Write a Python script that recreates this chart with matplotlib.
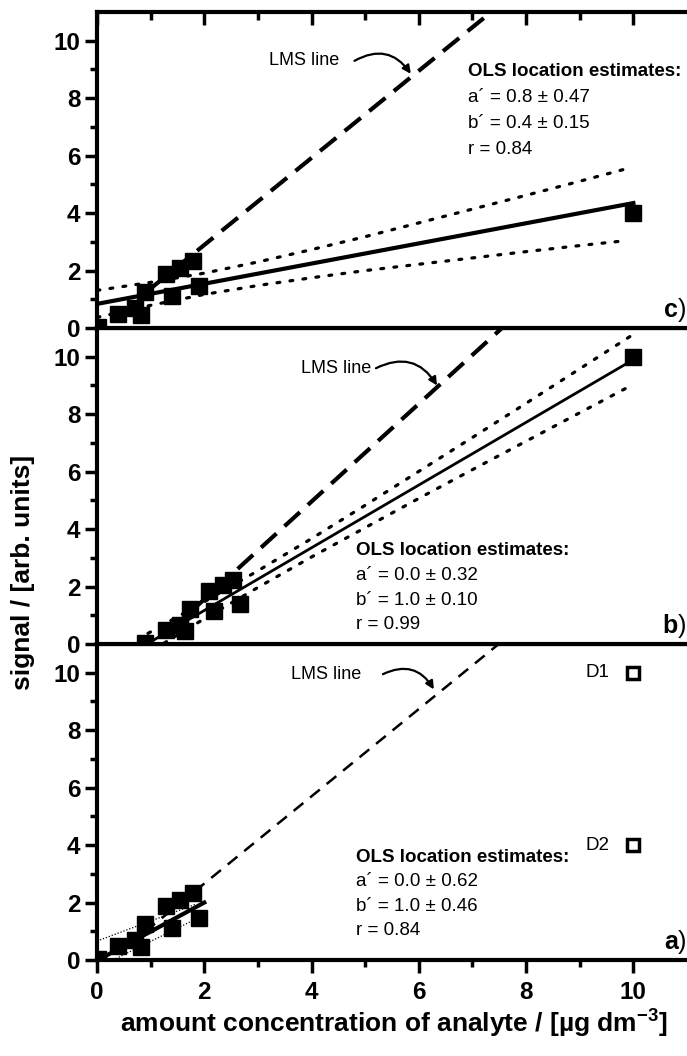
import numpy as np
import matplotlib
matplotlib.use("Agg")
import matplotlib.pyplot as plt

plt.rcParams['font.family'] = ['Liberation Sans', 'DejaVu Sans']
plt.rcParams['mathtext.fontset'] = 'custom'
plt.rcParams['mathtext.bf'] = 'Liberation Sans:bold'
plt.rcParams['mathtext.rm'] = 'Liberation Sans'

# calibration points (same cluster for panels a and c)
cluster_x = [0.02, 0.4, 0.7, 0.82, 0.9, 1.28, 1.39, 1.54, 1.79, 1.91]
cluster_y = [0.05, 0.5, 0.7, 0.47, 1.25, 1.87, 1.13, 2.1, 2.34, 1.46]
# panel b: cluster shifted along x
cluster_b_x = [0.9, 1.28, 1.55, 1.64, 1.73, 2.09, 2.18, 2.34, 2.53, 2.66]
cluster_b_y = [0.02, 0.49, 0.66, 0.46, 1.22, 1.86, 1.14, 2.06, 2.23, 1.39]

# outliers
outlier_c = (10.0, 4.0)
outlier_b = (10.0, 10.0)
d1 = (10.0, 10.0)
d2 = (10.0, 4.0)

# panel c lines
ols_c_x = [0.0, 10.0]
ols_c_y = [0.84, 4.35]
lms_c_x = [0.95, 7.35]
lms_c_y = [1.3, 11.0]
band_c_x = [0, 1, 2, 3, 4, 5, 6, 7, 8, 9, 9.9]
band_c_up = [1.31, 1.59, 1.91, 2.30, 2.73, 3.18, 3.66, 4.14, 4.62, 5.11, 5.56]
band_c_lo = [0.37, 0.79, 1.17, 1.48, 1.75, 2.00, 2.22, 2.44, 2.66, 2.87, 3.05]

# panel b lines
ols_b_x = [0.93, 10.0]
ols_b_y = [0.0, 9.9]
lms_b_x = [1.75, 7.55]
lms_b_y = [1.13, 11.0]
band_b_up_x = [0.95, 2, 3, 4, 5, 6, 7, 8, 9, 9.95]
band_b_up = [0.37, 1.47, 2.55, 3.67, 4.83, 6.01, 7.19, 8.38, 9.58, 10.72]
band_b_lo_x = [1.25, 2, 3, 4, 5, 6, 7, 8, 9, 9.95]
band_b_lo = [0.03, 0.88, 1.97, 3.03, 4.05, 5.07, 6.07, 7.06, 8.05, 8.99]

# panel a lines
ols_a_x = [0.07, 2.0]
ols_a_y = [0.05, 2.0]
lms_a_x = [0.9, 7.49]
lms_a_y = [0.99, 11.0]
band_a_up_x = [0.0, 1.85]
band_a_up = [0.66, 1.95]
band_a_lo_x = [0.3, 1.91]
band_a_lo = [0.0, 1.49]

ols_text_c = ["a\u00b4 = 0.8 \u00b1 0.47", "b\u00b4 = 0.4 \u00b1 0.15", "r = 0.84"]
ols_text_b = ["a\u00b4 = 0.0 \u00b1 0.32", "b\u00b4 = 1.0 \u00b1 0.10", "r = 0.99"]
ols_text_a = ["a\u00b4 = 0.0 \u00b1 0.62", "b\u00b4 = 1.0 \u00b1 0.46", "r = 0.84"]

xticks = [0, 2, 4, 6, 8, 10]
yticks = [0, 2, 4, 6, 8, 10]

fig = plt.figure(figsize=(6.87, 10.56), dpi=100)
left, bottom, top = 0.1412, 0.0909, 0.9886
h = (top - bottom) / 3
ax_a = fig.add_axes([left, bottom, 1 - left, h])
ax_b = fig.add_axes([left, bottom + h, 1 - left, h])
ax_c = fig.add_axes([left, bottom + 2 * h, 1 - left, h])

for ax in (ax_a, ax_b, ax_c):
    ax.set_xlim(0, 11)
    ax.set_ylim(0, 11)
    ax.spines['right'].set_visible(False)
    for s in ('left', 'top', 'bottom'):
        ax.spines[s].set_linewidth(3)
    ax.set_yticks(yticks)
    ax.set_yticklabels([str(t) for t in yticks], fontweight='bold', fontsize=17.5)
    ax.set_yticks(range(1, 11, 2), minor=True)
    ax.tick_params(axis='y', which='major', direction='out', length=9, width=2.5, pad=3)
    ax.tick_params(axis='y', which='minor', direction='out', length=5, width=2.5)

# x ticks: only bottom of a (outward) and top of c (inward)
ax_a.set_xticks(xticks)
ax_a.set_xticklabels([str(t) for t in xticks], fontweight='bold', fontsize=17.5)
ax_a.set_xticks(range(1, 11, 2), minor=True)
ax_a.tick_params(axis='x', which='major', direction='out', length=9, width=2.5, pad=6)
ax_a.tick_params(axis='x', which='minor', direction='out', length=5, width=2.5)

ax_c.set_xticks(xticks)
ax_c.set_xticks(range(1, 11, 2), minor=True)
ax_c.tick_params(axis='x', which='both', bottom=False, top=True, labelbottom=False,
                 direction='in', width=2.5)
ax_c.tick_params(axis='x', which='major', length=9)
ax_c.tick_params(axis='x', which='minor', length=6)
ax_b.tick_params(axis='x', which='both', bottom=False, top=False, labelbottom=False)

dot = (0, (0.9, 3.2))

# panel c
ax_c.plot(band_c_x, band_c_up, color='k', lw=2.3, ls=dot, dash_capstyle='round')
ax_c.plot(band_c_x, band_c_lo, color='k', lw=2.3, ls=dot, dash_capstyle='round')
ax_c.plot(ols_c_x, ols_c_y, color='k', lw=3)
ax_c.plot(lms_c_x, lms_c_y, color='k', lw=3, ls=(0, (5, 2.6)))
ax_c.plot(cluster_x + [outlier_c[0]], cluster_y + [outlier_c[1]], 's', color='k', ms=11.5)

# panel b
ax_b.plot(band_b_up_x, band_b_up, color='k', lw=2.3, ls=dot, dash_capstyle='round')
ax_b.plot(band_b_lo_x, band_b_lo, color='k', lw=2.3, ls=dot, dash_capstyle='round')
ax_b.plot(ols_b_x, ols_b_y, color='k', lw=2)
ax_b.plot(lms_b_x, lms_b_y, color='k', lw=3, ls=(0, (5, 2.6)))
ax_b.plot(cluster_b_x + [outlier_b[0]], cluster_b_y + [outlier_b[1]], 's', color='k', ms=11.5)

# panel a
ax_a.plot(band_a_up_x, band_a_up, color='k', lw=0.9, ls=(0, (1, 1.5)))
ax_a.plot(band_a_lo_x, band_a_lo, color='k', lw=0.9, ls=(0, (1, 1.5)))
ax_a.plot(ols_a_x, ols_a_y, color='k', lw=3)
ax_a.plot(lms_a_x, lms_a_y, color='k', lw=1.8, ls=(0, (5, 3.5)))
ax_a.plot(cluster_x, cluster_y, 's', color='k', ms=11.5)
ax_a.plot([d1[0], d2[0]], [d1[1], d2[1]], 's', mfc='white', mec='k', mew=2.5, ms=9)
ax_a.text(9.55, d1[1], "D1", fontsize=13.5, ha='right', va='center')
ax_a.text(9.55, d2[1], "D2", fontsize=13.5, ha='right', va='center')

# LMS annotations
arrow = dict(arrowstyle='-|>', connectionstyle='arc3,rad=-0.45', lw=1.6,
             color='k', mutation_scale=12, shrinkA=0, shrinkB=0)
for ax, tx, ty, ax0, head in ((ax_c, 3.2, 9.3, 4.8, (5.85, 8.85)),
                              (ax_b, 3.8, 9.6, 5.2, (6.34, 9.0)),
                              (ax_a, 3.62, 9.95, 5.33, (6.28, 9.42))):
    ax.text(tx, ty, "LMS line", fontsize=13, ha='left', va='center')
    ax.annotate("", xy=head, xytext=(ax0, ty), arrowprops=arrow)

# OLS text blocks
for ax, x0, y0, step, lines in ((ax_c, 6.92, 8.92, 0.9, ols_text_c),
                                (ax_b, 4.83, 3.25, 0.86, ols_text_b),
                                (ax_a, 4.83, 3.58, 0.85, ols_text_a)):
    ax.text(x0, y0, "OLS location estimates:", fontsize=13.5, fontweight='bold',
            ha='left', va='center')
    for i, line in enumerate(lines):
        ax.text(x0, y0 - step * (i + 1), line, fontsize=13.5, ha='left', va='center')

# panel letters
for ax, letter in ((ax_c, "c"), (ax_b, "b"), (ax_a, "a")):
    ax.text(10.83, 0.2, letter, fontsize=18, fontweight='bold', ha='right', va='bottom')
    ax.text(10.83, 0.2, ")", fontsize=18, ha='left', va='bottom')

fig.text(0.033, 0.458, "signal / [arb. units]", rotation=90, fontsize=19,
         fontweight='bold', ha='center', va='center')
fig.text(0.573, 0.032, "amount concentration of analyte / [\u00b5g dm$^{\\mathbf{-3}}$]",
         fontsize=19, fontweight='bold', ha='center', va='center')

fig.savefig("out.png", dpi=100)
